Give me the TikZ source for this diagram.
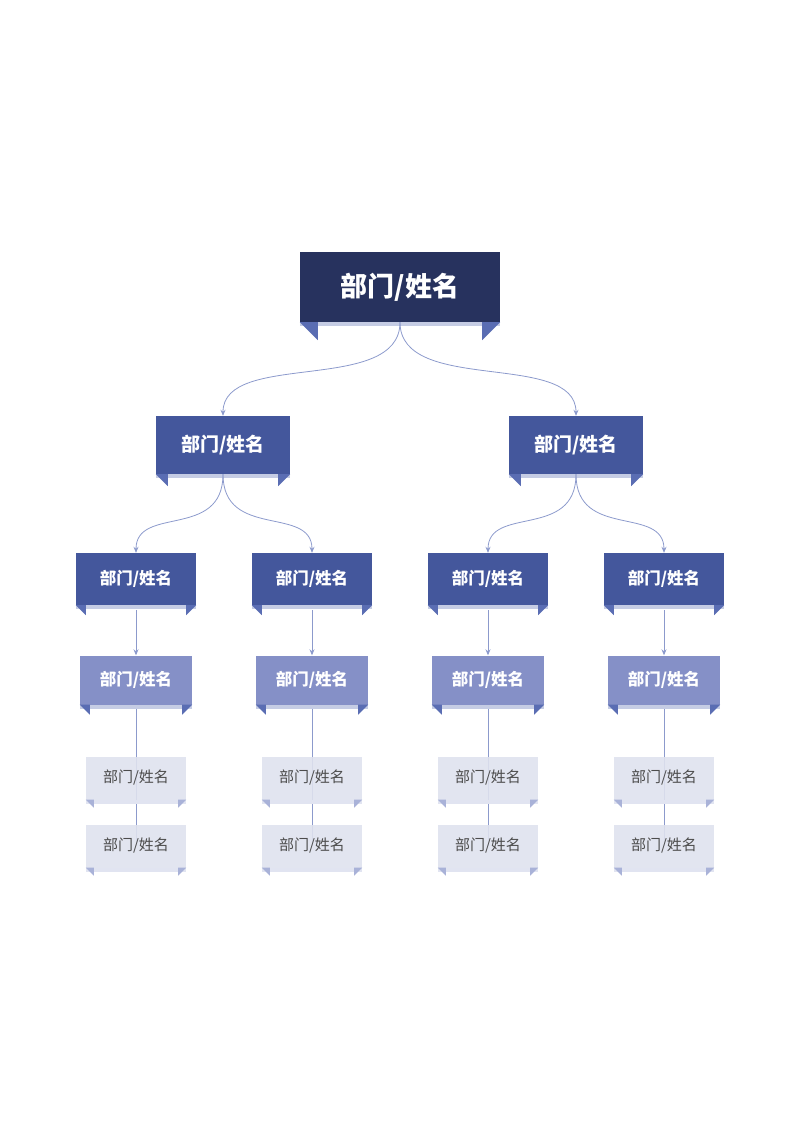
\documentclass[tikz,border=0pt]{standalone}
\usepackage{fontspec}
\newfontfamily\cjk{Noto Sans CJK SC}
\usetikzlibrary{arrows.meta,positioning}
\definecolor{rootblue}{HTML}{27325E}
\definecolor{deptblue}{HTML}{44579C}
\definecolor{midblue}{HTML}{8590C7}
\definecolor{paleblue}{HTML}{DFE2EE}
\definecolor{linkblue}{HTML}{8C9ACC}
\definecolor{tabblue}{HTML}{5A6DB3}
\definecolor{tabpale}{HTML}{A9B2D8}
% tabs under a box: #1 node, #2 tab size, #3 colour
\newcommand{\boxtabs}[3]{%
  \fill[#3!35!white] (#1.south west) rectangle ([yshift=-4pt]#1.south east);
  \fill[#3] (#1.south west) -- ([xshift=#2]#1.south west) -- ([xshift=#2,yshift=-#2]#1.south west) -- cycle;
  \fill[#3] (#1.south east) -- ([xshift=-#2]#1.south east) -- ([xshift=-#2,yshift=-#2]#1.south east) -- cycle;
}
\begin{document}
\begin{tikzpicture}[x=1pt,y=-1pt, font=\cjk,
    org/.style={inner sep=0pt, text=white, font=\cjk\bfseries},
    rootbox/.style={org, fill=rootblue, minimum width=200pt, minimum height=70pt, font=\cjk\bfseries\fontsize{27}{30}\selectfont},
    deptbox/.style={org, fill=deptblue, minimum width=134pt, minimum height=58pt, font=\cjk\bfseries\fontsize{19}{22}\selectfont},
    teambox/.style={org, fill=deptblue, minimum width=120pt, minimum height=52pt, font=\cjk\bfseries\fontsize{16.5}{19}\selectfont},
    groupbox/.style={org, fill=midblue, minimum width=112pt, minimum height=49pt, font=\cjk\bfseries\fontsize{16.5}{19}\selectfont},
    staffbox/.style={org, fill=paleblue, fill opacity=0.9, text opacity=1, text=black!70, minimum width=100pt, minimum height=43pt, font=\cjk\fontsize{15}{18}\selectfont},
    link/.style={draw=linkblue, line width=0.8pt},
    arr/.style={link, -{Stealth[length=6pt,width=5pt]}}
    ]
\useasboundingbox (0,0) rectangle (800,1130);

\node[rootbox] (root) at (400,287) {部门/姓名};
\node[deptbox] (d1) at (223,445) {部门/姓名};
\node[deptbox] (d2) at (576,445) {部门/姓名};
\boxtabs{root}{18pt}{tabblue}
\boxtabs{d1}{12pt}{tabblue}
\boxtabs{d2}{12pt}{tabblue}

\draw[arr] (root.south) .. controls (400,395) and (223,350) .. (d1.north);
\draw[arr] (root.south) .. controls (400,395) and (576,350) .. (d2.north);

\foreach \x/\p [count=\i] in {136/d1, 312/d1, 488/d2, 664/d2} {
  % line through the staff boxes goes behind them
  \coordinate (s\i) at (\x,846);
  \draw[link] (\x,705) -- (s\i);
  \node[teambox] (t\i) at (\x,579) {部门/姓名};
  \node[groupbox] (g\i) at (\x,680) {部门/姓名};
  \node[staffbox] (a\i) at (\x,778) {部门/姓名};
  \node[staffbox] (b\i) at (\x,846) {部门/姓名};
  \boxtabs{t\i}{10pt}{tabblue}
  \boxtabs{g\i}{10pt}{tabblue}
  \boxtabs{a\i}{8pt}{tabpale}
  \boxtabs{b\i}{8pt}{tabpale}
  \draw[arr] (\p.south) .. controls (\p.south |- 0,540) and (\x,505) .. (t\i.north);
  \draw[arr] ([yshift=-5pt]t\i.south) -- (g\i.north);
}
\end{tikzpicture}
\end{document}
